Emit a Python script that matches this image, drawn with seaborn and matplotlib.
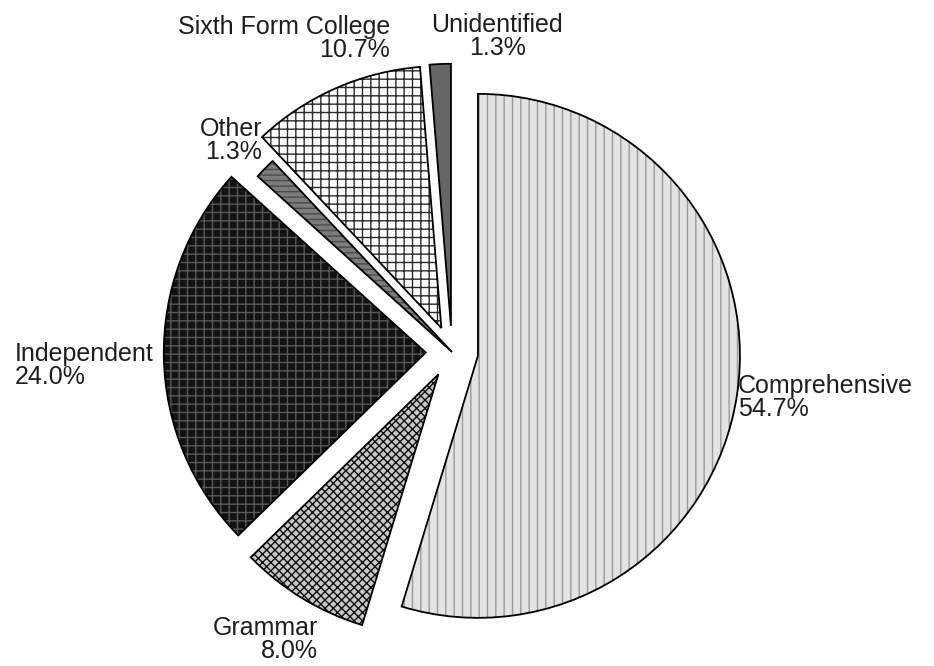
import numpy as np
import matplotlib
matplotlib.use("Agg")
import matplotlib.pyplot as plt
import seaborn as sns

# school type shares (%), clockwise from 12 o'clock
categories = ["Comprehensive", "Grammar", "Independent", "Other",
              "Sixth Form College", "Unidentified"]
percentages = [54.7, 8.0, 24.0, 1.3, 10.7, 1.3]

# styling per slice
explode = [0.1, 0.1, 0.1, 0.0, 0.1, 0.1]
face_colors = ["#e3e3e3", "#c8c8c8", "#121212", "#7c7c7c", "white", "#666666"]
hatch_colors = ["#9a9a9a", "#111111", "#585858", "#4a4a4a", "#2a2a2a", "#666666"]
hatches = ["||", "xxxx", "++", "---", "++", None]

# label anchors (pie radius units) and alignment
label_pos = [(1.092, -0.172, "left"), (-0.511, -1.099, "right"),
             (-1.668, -0.050, "left"), (-0.725, 0.809, "right"),
             (-0.237, 1.198, "right"), (0.172, 1.206, "center")]

sns.set_theme(style="white")
plt.rcParams["font.family"] = ["Liberation Sans", "DejaVu Sans"]
plt.rcParams["hatch.linewidth"] = 1.0

fig = plt.figure(figsize=(9.34, 6.66), dpi=100)
ax = fig.add_axes([0, 0, 1, 1])

# first pass: fills + hatching (hatch colour follows edgecolor)
wedges, _ = ax.pie(percentages, explode=explode, startangle=90,
                   counterclock=False, radius=1.0)
for w, fc, hc, h in zip(wedges, face_colors, hatch_colors, hatches):
    w.set_facecolor(fc)
    w.set_edgecolor(hc)
    w.set_linewidth(0.3)
    if h:
        w.set_hatch(h)

# second pass: black outlines
outlines, _ = ax.pie(percentages, explode=explode, startangle=90,
                     counterclock=False, radius=1.0,
                     wedgeprops=dict(fill=False, edgecolor="black", linewidth=1.3))

for cat, pct, (x, y, ha) in zip(categories, percentages, label_pos):
    ax.text(x, y, f"{cat}\n{pct:.1f}%", ha=ha, va="center", multialignment=ha,
            fontsize=18, color="#1e1e1e", linespacing=0.95)

# center of pie at (452, 352) px, radius 262 px
ax.set_xlim(-452 / 262, (934 - 452) / 262)
ax.set_ylim(-(666 - 352) / 262, 352 / 262)
ax.set_aspect("auto")
ax.axis("off")

fig.savefig("out.png", dpi=100, facecolor="white")
